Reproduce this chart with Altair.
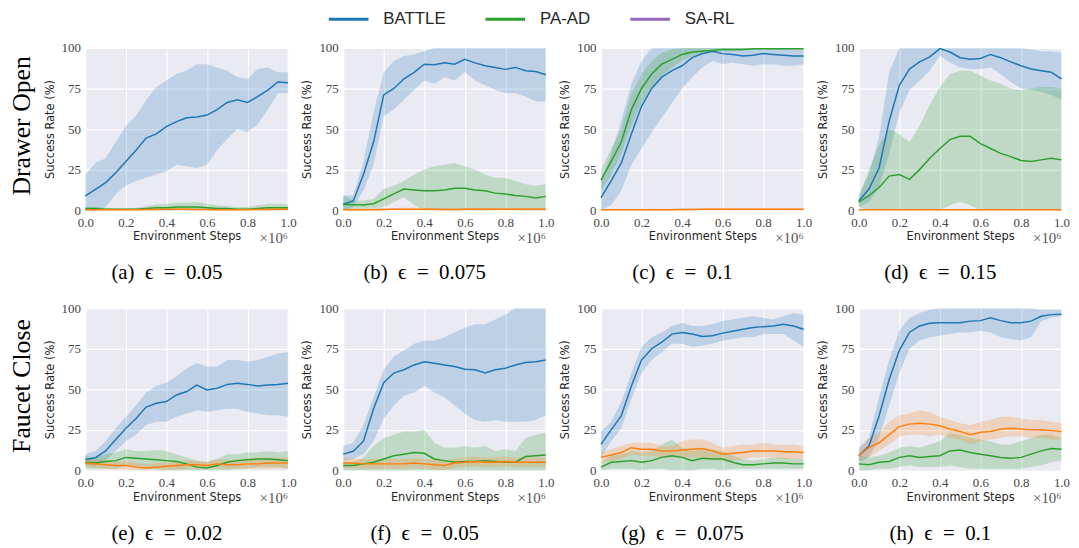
import altair as alt
import pandas as pd

# ---------------- data ----------------
STEPS = [0.0, 0.05, 0.1, 0.15, 0.2, 0.25, 0.3, 0.35, 0.4, 0.45, 0.5,
         0.55, 0.6, 0.65, 0.7, 0.75, 0.8, 0.85, 0.9, 0.95, 1.0]
METHODS = ["BATTLE", "PA-AD", "SA-RL"]
LINE_COLORS = ["#1f77b4", "#2ca02c", "#ff7f0e"]
LEGEND_COLORS = ["#1f77b4", "#2ca02c", "#9467bd"]
CAPTIONS = ["(a)\u2002ϵ\u2002=\u20020.05", "(b)\u2002ϵ\u2002=\u20020.075", "(c)\u2002ϵ\u2002=\u20020.1",
            "(d)\u2002ϵ\u2002=\u20020.15", "(e)\u2002ϵ\u2002=\u20020.02", "(f)\u2002ϵ\u2002=\u20020.05",
            "(g)\u2002ϵ\u2002=\u20020.075", "(h)\u2002ϵ\u2002=\u20020.1"]
ROW_LABELS = ["Drawer Open", "Faucet Close"]
X_TICKS = [0.0, 0.2, 0.4, 0.6, 0.8, 1.0]
Y_TICKS = [0, 25, 50, 75, 100]

# (a) Drawer Open, eps 0.05
A_BATTLE = [8.8, 12.8, 17, 23, 30, 37, 44.4, 47, 51.5, 54.6, 57, 57.4, 58.6, 62, 66.4, 68, 66.4, 70, 74, 79, 78.6]
A_BATTLE_LO = [0, 0, 2, 10, 15, 18, 20, 22, 24, 28, 27, 26, 28, 37, 44, 50, 48, 53, 62, 72, 72]
A_BATTLE_HI = [22, 29, 32, 42, 52, 58, 68, 76, 80, 84, 86, 90, 90, 88, 86, 82, 81, 87, 88, 85, 85]
A_PAAD = [1, 1, 0.5, 0.5, 0.5, 0.5, 1, 1.5, 1.5, 2, 2, 2, 1.5, 1, 1, 0.5, 0.5, 1, 1.5, 1.5, 1.5]
A_PAAD_LO = [0, 0, 0, 0, 0, 0, 0, 0, 0, 0, 0, 0, 0, 0, 0, 0, 0, 0, 0, 0, 0]
A_PAAD_HI = [2, 2, 1.5, 1, 1, 1.5, 2.5, 3.5, 4, 4.5, 4.5, 5, 4, 3, 2.5, 2, 2, 3, 4, 4, 3.5]
A_SARL = [0.3, 0.3, 0.2, 0.2, 0.3, 0.3, 0.4, 0.4, 0.5, 0.5, 0.5, 0.4, 0.4, 0.3, 0.3, 0.3, 0.3, 0.4, 0.4, 0.5, 0.5]
A_SARL_LO = [0, 0, 0, 0, 0, 0, 0, 0, 0, 0, 0, 0, 0, 0, 0, 0, 0, 0, 0, 0, 0]
A_SARL_HI = [0.8, 0.8, 0.6, 0.6, 0.8, 0.8, 1, 1, 1.2, 1.2, 1.2, 1, 1, 0.8, 0.8, 0.8, 0.8, 1, 1, 1.2, 1.2]

# (b) Drawer Open, eps 0.075
B_BATTLE = [3.7, 5.7, 22, 42, 71, 75, 81, 85, 90, 89.6, 90.8, 90, 93, 90.8, 89, 88, 86.8, 88, 86, 85.5, 83.5]
B_BATTLE_LO = [0, 2, 12, 28, 58, 62, 68, 74, 80, 78, 82, 80, 85, 80, 77, 74, 72, 72, 70, 67, 67]
B_BATTLE_HI = [9, 9, 30, 60, 85, 92, 95, 96, 98, 100, 100, 100, 100, 100, 100, 100, 100, 100, 100, 100, 100]
B_PAAD = [3.5, 3.3, 3.2, 4, 7, 10, 13, 12.5, 12, 12, 12.5, 13.5, 13.5, 12.5, 12, 10.5, 10, 9, 8.5, 7.5, 8.5]
B_PAAD_LO = [0, 1, 1, 1, 2, 5, 8, 3, 0, 0, 0, 0, 0, 0, 0, 0, 1, 0, 0, 0, 0]
B_PAAD_HI = [9, 6, 6, 7, 13, 15, 18, 22, 25, 27, 28, 29, 27, 25, 22, 20, 20, 18, 16, 15, 16]
B_SARL = [0.3, 0.3, 0.3, 0.3, 0.4, 0.5, 0.6, 0.6, 0.6, 0.5, 0.4, 0.4, 0.5, 0.5, 0.6, 0.6, 0.6, 0.6, 0.6, 0.6, 0.6]
B_SARL_LO = [0, 0, 0, 0, 0, 0, 0, 0, 0, 0, 0, 0, 0, 0, 0, 0, 0, 0, 0, 0, 0]
B_SARL_HI = [1, 1, 1, 1, 1.2, 1.3, 1.5, 1.5, 1.5, 1.3, 1.2, 1.2, 1.3, 1.3, 1.5, 1.5, 1.5, 1.5, 1.5, 1.5, 1.5]

# (c) Drawer Open, eps 0.1
C_BATTLE = [7.8, 18, 29, 47, 64, 75, 82, 86, 89, 94, 96.5, 98, 96.5, 96, 95, 95.5, 96.5, 96, 95.5, 95, 95]
C_BATTLE_LO = [0, 3, 12, 28, 38, 48, 57, 66, 75, 82, 88, 92, 90, 91, 90, 89, 90, 90, 89, 89, 90]
C_BATTLE_HI = [18, 35, 55, 78, 92, 100, 100, 100, 100, 100, 100, 100, 100, 100, 100, 100, 100, 100, 100, 99, 99]
C_PAAD = [18.5, 30, 42, 62, 75, 84, 90, 93, 96, 97.5, 98, 98.5, 99, 99, 99, 99.5, 99.5, 99.5, 99.5, 99.5, 99.5]
C_PAAD_LO = [12, 22, 35, 52, 66, 76, 83, 88, 92, 95, 96, 97, 98, 98, 98.5, 99, 99, 99, 99, 99, 99]
C_PAAD_HI = [25, 38, 50, 72, 84, 92, 97, 99, 100, 100, 100, 100, 100, 100, 100, 100, 100, 100, 100, 100, 100]
C_SARL = [0.2, 0.2, 0.2, 0.2, 0.2, 0.3, 0.3, 0.3, 0.4, 0.4, 0.5, 0.5, 0.5, 0.6, 0.6, 0.6, 0.6, 0.6, 0.6, 0.6, 0.6]
C_SARL_LO = [0, 0, 0, 0, 0, 0, 0, 0, 0, 0, 0, 0, 0, 0, 0, 0, 0, 0, 0, 0, 0]
C_SARL_HI = [0.6, 0.6, 0.6, 0.6, 0.6, 0.8, 0.8, 0.8, 1, 1, 1.2, 1.2, 1.2, 1.3, 1.3, 1.3, 1.3, 1.3, 1.3, 1.3, 1.3]

# (d) Drawer Open, eps 0.15
D_BATTLE = [5.7, 13, 26, 55, 77, 87, 91.4, 94.5, 99.6, 97.5, 94, 93, 93.5, 96, 94, 91.4, 89, 87, 86, 85, 81]
D_BATTLE_LO = [2, 5, 14, 35, 60, 74, 80, 86, 95, 91, 88, 87, 87, 88, 84, 79, 75, 74, 73, 71, 68]
D_BATTLE_HI = [9, 22, 45, 85, 100, 100, 100, 100, 100, 100, 100, 100, 100, 100, 100, 100, 100, 99, 98, 98, 97]
D_PAAD = [5, 9, 14, 21, 22, 19, 25, 32, 38, 43.5, 45.5, 45.5, 41, 38, 35, 33, 30.6, 30, 31, 32, 31]
D_PAAD_LO = [2, 0, 0, 0, 0, 0, 0, 0, 0, 3, 5, 3, 0, 0, 0, 0, 0, 0, 0, 0, 0]
D_PAAD_HI = [8, 25, 40, 50, 47, 42, 52, 65, 76, 84, 86, 86, 83, 80, 78, 75, 74, 75, 76, 76, 75]
D_SARL = [0.2, 0.2, 0.2, 0.2, 0.2, 0.2, 0.2, 0.2, 0.2, 0.2, 0.2, 0.2, 0.2, 0.2, 0.2, 0.2, 0.2, 0.2, 0.2, 0.2, 0.2]
D_SARL_LO = [0, 0, 0, 0, 0, 0, 0, 0, 0, 0, 0, 0, 0, 0, 0, 0, 0, 0, 0, 0, 0]
D_SARL_HI = [0.5, 0.5, 0.5, 0.5, 0.5, 0.5, 0.5, 0.5, 0.5, 0.5, 0.5, 0.5, 0.5, 0.5, 0.5, 0.5, 0.5, 0.5, 0.5, 0.5, 0.5]

# (e) Faucet Close, eps 0.02
E_BATTLE = [6.7, 7.8, 12, 19, 26, 32, 39, 41.4, 42.4, 46.5, 48.6, 52.6, 49.6, 50.6, 53, 53.7, 53, 52, 52.6, 53, 53.7]
E_BATTLE_LO = [3, 3, 6, 12, 18, 22, 28, 30, 30, 33, 35, 37, 36, 37, 38, 38, 36, 35, 34, 34, 33]
E_BATTLE_HI = [10, 12, 18, 26, 33, 40, 48, 52, 54, 58, 63, 66, 64, 64, 68, 68, 67, 68, 70, 72, 73]
E_PAAD = [5, 4.5, 5.5, 6, 8, 7.5, 7, 6.5, 6, 5.5, 4, 2, 1.5, 3, 5, 6, 6.5, 7, 7, 6.5, 6]
E_PAAD_LO = [1, 1, 1, 1, 3, 2, 1, 1, 0, 0, 0, 0, 0, 0, 0, 1, 1, 2, 2, 2, 1]
E_PAAD_HI = [9, 8, 10, 11, 13, 12, 12, 12.5, 12, 10, 8, 6, 5, 7, 10, 10, 11, 11, 12, 11, 12]
E_SARL = [4.5, 4, 3.5, 3, 3, 2, 1.5, 2, 2.5, 3, 3.5, 3.5, 3, 4, 3.5, 3.5, 4, 4, 4.5, 4.5, 4.5]
E_SARL_LO = [2, 1.5, 1, 0.5, 0.5, 0, 0, 0, 0, 0.5, 1, 1, 1, 1.5, 1, 1, 1, 1, 1, 1, 1]
E_SARL_HI = [7, 6.5, 6, 5.5, 5.5, 4.5, 4, 4.5, 5, 5.5, 6, 6, 5.5, 7, 6.5, 6.5, 7.5, 7.5, 8, 8, 8]

# (f) Faucet Close, eps 0.05
F_BATTLE = [10, 11.8, 18, 38, 54, 60, 62, 65, 67, 66, 65, 64, 62.4, 62, 60, 62, 63, 65, 66.5, 67, 68]
F_BATTLE_LO = [6, 7, 10, 18, 32, 40, 46, 48, 52, 48, 45, 40, 35, 31, 30, 31, 30, 30, 30, 31, 34]
F_BATTLE_HI = [15, 17, 28, 45, 62, 70, 74, 78, 80, 80, 82, 85, 88, 90, 90, 93, 96, 100, 100, 100, 100]
F_PAAD = [3, 3, 4, 5, 7, 9, 10, 11, 10.5, 7, 6, 5, 5.5, 5.5, 6, 5.5, 5, 5, 8.5, 9, 9.5]
F_PAAD_LO = [0, 0, 0, 0, 0, 0, 0, 0, 0, 0, 0, 0, 0, 0, 0, 0, 0, 0, 0, 0, 0]
F_PAAD_HI = [5, 5, 8, 15, 20, 22, 24, 24, 25, 17, 14, 14, 15, 14, 15, 12, 13, 12, 20, 22, 23]
F_SARL = [4.5, 4.5, 4, 4, 4, 4, 4, 4.5, 4, 3.5, 3, 4.5, 5, 5.5, 5, 5, 5.5, 5, 5, 5, 5]
F_SARL_LO = [1.5, 1.5, 1, 1, 1, 1, 1, 1.5, 1, 0.5, 0, 1.5, 2, 2.5, 2, 2, 2.5, 2, 2, 2, 2]
F_SARL_HI = [7.5, 7.5, 7, 7, 7, 7, 7, 7.5, 7, 6.5, 6, 7.5, 8, 8.5, 8, 8, 8.5, 8, 8, 8, 8]

# (g) Faucet Close, eps 0.075
G_BATTLE = [16, 25, 33.5, 52, 68, 75, 79, 84, 85, 84, 82.5, 83, 84.6, 85.8, 87, 88, 88.6, 89, 90, 89, 87]
G_BATTLE_LO = [8, 18, 26, 44, 60, 68, 73, 78, 78, 76, 77, 78, 80, 81, 82, 82, 84, 84, 84, 80, 76]
G_BATTLE_HI = [24, 30, 42, 60, 76, 82, 85, 89, 91, 89, 89, 90, 92, 93, 94, 95, 94, 93, 95, 97, 96]
G_PAAD = [2, 5, 5.5, 6, 5, 6, 8, 9, 8, 6, 7.5, 7, 7, 5, 3.5, 3.5, 4, 4.5, 4.5, 4, 4]
G_PAAD_LO = [0, 1, 1, 1, 0, 1, 1, 0, 0, 0, 1, 1, 0, 1, 1, 1, 1, 1, 1, 1, 1]
G_PAAD_HI = [5, 9, 10, 12, 11, 12, 16, 19, 14, 12, 13, 13, 12, 9, 7, 6, 7, 8, 8, 7, 7]
G_SARL = [8, 9.5, 11, 14, 13, 13, 12, 12, 12.5, 13, 13.5, 12, 10, 10.5, 11, 12, 12, 12, 11.5, 11.5, 11]
G_SARL_LO = [5, 6, 7, 10, 9, 9, 8, 8, 8, 8, 8, 7, 6, 6, 7, 8, 8, 8, 7, 7, 7]
G_SARL_HI = [11, 13, 15, 17, 17, 17, 15, 15, 18, 19, 19, 17, 14, 15, 16, 16, 17, 16, 16, 16, 15]

# (h) Faucet Close, eps 0.1
H_BATTLE = [9, 15, 33.5, 56, 74, 85, 89, 90.7, 91, 91, 91, 92, 92.3, 94, 92.3, 91, 91, 92, 95, 96, 96.3]
H_BATTLE_LO = [5, 8, 20, 40, 60, 75, 80, 82, 83, 84, 85, 85, 86, 85, 82, 81, 80, 82, 92, 94, 95]
H_BATTLE_HI = [14, 20, 45, 68, 86, 94, 97, 99, 100, 100, 100, 100, 100, 100, 100, 100, 100, 100, 99, 99, 99]
H_PAAD = [4, 3.5, 5, 5.5, 8, 9, 8, 8.5, 9, 12, 12.5, 11, 10, 9, 8, 7.5, 8, 10, 12, 13.5, 13]
H_PAAD_LO = [0, 0, 1, 1, 2, 3, 2, 2, 2, 3, 2, 1, 1, 1, 1, 1, 1, 2, 3, 5, 6]
H_PAAD_HI = [9, 8, 9, 11, 14, 15, 14, 16, 18, 23, 22, 20, 19, 18, 16, 16, 18, 20, 22, 22, 20]
H_SARL = [9, 14, 17, 22, 27, 28.5, 29, 28.5, 27.5, 25.5, 24, 22, 23.5, 24, 25.5, 26, 25.5, 25, 25, 24.5, 24]
H_SARL_LO = [6, 8, 12, 16, 21, 22, 22, 21, 22, 20, 19, 16, 18, 19, 20, 21, 21, 20, 20, 19, 19]
H_SARL_HI = [12, 20, 23, 30, 34, 35, 37, 36, 33, 31, 29, 28, 30, 31, 33, 33, 32, 31, 31, 30, 29]

PANELS = [
    [(A_BATTLE, A_BATTLE_LO, A_BATTLE_HI), (A_PAAD, A_PAAD_LO, A_PAAD_HI), (A_SARL, A_SARL_LO, A_SARL_HI)],
    [(B_BATTLE, B_BATTLE_LO, B_BATTLE_HI), (B_PAAD, B_PAAD_LO, B_PAAD_HI), (B_SARL, B_SARL_LO, B_SARL_HI)],
    [(C_BATTLE, C_BATTLE_LO, C_BATTLE_HI), (C_PAAD, C_PAAD_LO, C_PAAD_HI), (C_SARL, C_SARL_LO, C_SARL_HI)],
    [(D_BATTLE, D_BATTLE_LO, D_BATTLE_HI), (D_PAAD, D_PAAD_LO, D_PAAD_HI), (D_SARL, D_SARL_LO, D_SARL_HI)],
    [(E_BATTLE, E_BATTLE_LO, E_BATTLE_HI), (E_PAAD, E_PAAD_LO, E_PAAD_HI), (E_SARL, E_SARL_LO, E_SARL_HI)],
    [(F_BATTLE, F_BATTLE_LO, F_BATTLE_HI), (F_PAAD, F_PAAD_LO, F_PAAD_HI), (F_SARL, F_SARL_LO, F_SARL_HI)],
    [(G_BATTLE, G_BATTLE_LO, G_BATTLE_HI), (G_PAAD, G_PAAD_LO, G_PAAD_HI), (G_SARL, G_SARL_LO, G_SARL_HI)],
    [(H_BATTLE, H_BATTLE_LO, H_BATTLE_HI), (H_PAAD, H_PAAD_LO, H_PAAD_HI), (H_SARL, H_SARL_LO, H_SARL_HI)],
]

# ---------------- style ----------------
SERIF = "Liberation Serif, DejaVu Serif, serif"
SANS = "DejaVu Sans, sans-serif"
W, H = 204.4, 163.6


def frame(series):
    rows = []
    for method, (mean, lo, hi) in zip(METHODS, series):
        for s, v, l, h in zip(STEPS, mean, lo, hi):
            rows.append({"step": s, "method": method, "mean": v, "lo": l, "hi": h})
    return pd.DataFrame(rows)


x_axis = alt.Axis(values=X_TICKS, format=".1f", title="Environment Steps")
y_axis = alt.Axis(values=Y_TICKS, title="Success Rate (%)")
x_scale = alt.Scale(domain=[0, 1], nice=False, zero=False)
y_scale = alt.Scale(domain=[0, 100], nice=False)
# data-driven (sorted) domain for plotted colours, so its (hidden) legend is not merged
# with the explicit-domain legend below
color = alt.Color("method:N", scale=alt.Scale(range=LINE_COLORS), legend=None)
one = pd.DataFrame({"k": [0]})


def panel(i):
    df = frame(PANELS[i])
    base = alt.Chart(df)
    xe = alt.X("step:Q", scale=x_scale, axis=x_axis)
    band = base.mark_area(opacity=0.22).encode(
        x=xe, y=alt.Y("lo:Q", scale=y_scale, axis=y_axis), y2="hi:Q", color=color)
    line = base.mark_line(strokeWidth=1.5).encode(
        x=xe, y=alt.Y("mean:Q", scale=y_scale, axis=y_axis), color=color)
    sci = alt.Chart(one).mark_text(
        text="×10⁶", align="right", baseline="middle", font=SERIF, fontSize=15, color="#555"
    ).encode(x=alt.datum(1.0, scale=x_scale, axis=x_axis), y=alt.datum(-17, scale=y_scale, axis=y_axis))
    layers = [band, line, sci]
    if i % 4 == 0:
        lab = alt.Chart(one).mark_text(
            text=ROW_LABELS[i // 4], angle=270, align="center", baseline="middle",
            font=SERIF, fontSize=26, color="black"
        ).encode(x=alt.datum(-0.313, scale=x_scale, axis=x_axis), y=alt.datum(52, scale=y_scale, axis=y_axis))
        layers.append(lab)
    if i == 0:
        leg = base.transform_filter("false").mark_line().encode(
            x=xe, y=alt.Y("mean:Q", scale=y_scale, axis=y_axis),
            stroke=alt.Stroke("method:N", scale=alt.Scale(domain=METHODS, range=LEGEND_COLORS),
                              legend=alt.Legend(title=None, orient="none", direction="horizontal",
                                                legendX=257, legendY=-37.7, padding=0,
                                                symbolType="M-4,0H4", symbolSize=100,
                                                symbolStrokeWidth=3, symbolOpacity=1,
                                                labelOffset=26.5,
                                                labelFont="Liberation Sans, Arial, sans-serif",
                                                labelFontSize=17, labelColor="#262626",
                                                columnPadding=33)))
        layers.append(leg)
    return alt.layer(*layers).properties(
        width=W, height=H,
        title=alt.TitleParams(text=CAPTIONS[i], orient="bottom", font=SERIF, fontSize=21,
                              fontWeight="normal", color="black", offset=17, anchor="middle",
                              dx=-20))


chart = alt.concat(*[panel(i) for i in range(8)], columns=4,
                   spacing={"row": 98.4, "column": 55}, bounds="flush").properties(
    padding=0
).configure_view(
    fill="#EAEAF2", stroke="transparent"
).configure_axis(
    grid=True, gridColor="white", gridWidth=1.2, gridOpacity=1, domain=False, ticks=False,
    labelFont=SERIF, labelFontSize=13, labelColor="#444", labelFlush=False, labelOverlap=False,
    titleFont=SANS, titleFontSize=11.5, titleColor="#262626", titleFontWeight="normal"
).configure_axisX(
    labelPadding=6, titlePadding=2
).configure_axisY(
    labelPadding=5, titlePadding=6
)

chart.save("out.html", embed_options={"renderer": "svg", "actions": False})
